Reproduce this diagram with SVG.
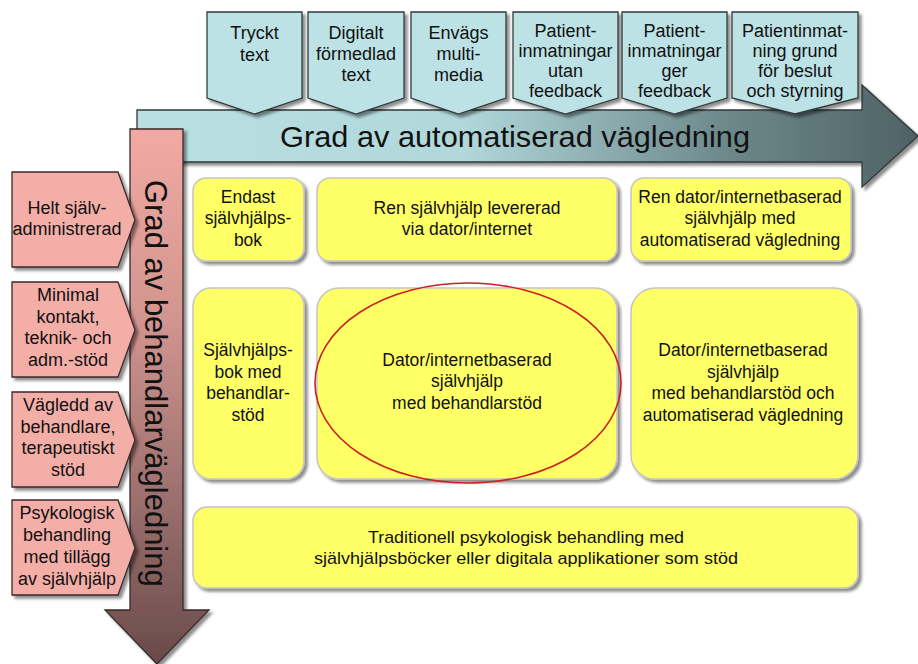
<svg xmlns="http://www.w3.org/2000/svg" width="918" height="664" viewBox="0 0 918 664">
<defs>
<style>
.t{font-family:"Liberation Sans",Arial,sans-serif;fill:#111;text-anchor:middle}
.s18{font-size:18px}
.s17{font-size:17.5px}
.cy{fill:#bde2e5;stroke:#2f3a3b;stroke-width:1.3}
.pk{fill:#f4aea8;stroke:#3a2a2a;stroke-width:1.3}
.yb{fill:#ffff66;stroke:#c4c4c4;stroke-width:1.5}
</style>
<linearGradient id="gh" gradientUnits="userSpaceOnUse" x1="137" y1="0" x2="918" y2="0">
<stop offset="0" stop-color="#b9e0e3"/>
<stop offset="0.42" stop-color="#b0d7da"/>
<stop offset="0.75" stop-color="#6e898b"/>
<stop offset="1" stop-color="#4f6264"/>
</linearGradient>
<linearGradient id="gv" gradientUnits="userSpaceOnUse" x1="0" y1="129" x2="0" y2="664">
<stop offset="0" stop-color="#f2a9a3"/>
<stop offset="0.35" stop-color="#d3958f"/>
<stop offset="0.7" stop-color="#9a6f6d"/>
<stop offset="1" stop-color="#6a4a4a"/>
</linearGradient>
<filter id="sh" x="-10%" y="-10%" width="130%" height="130%">
<feGaussianBlur in="SourceAlpha" stdDeviation="1.5"/>
<feOffset dx="2.5" dy="2.5" result="o"/>
<feComponentTransfer><feFuncA type="linear" slope="0.45"/></feComponentTransfer>
<feMerge><feMergeNode/><feMergeNode in="SourceGraphic"/></feMerge>
</filter>
</defs>
<rect width="918" height="664" fill="#ffffff"/>

<g id="arrow-automation">
<polygon points="137,110 862,110 862,85 918,136 862,187 862,162 137,162" fill="url(#gh)" stroke="#2f3a3b" stroke-width="1.3" filter="url(#sh)"/>
<text class="t" x="280" y="147" style="font-size:30px;text-anchor:start" textLength="470" lengthAdjust="spacingAndGlyphs">Grad av automatiserad vägledning</text>
</g>

<g id="top-tryckt">
<polygon class="cy" points="207,12 302,12 302,98 254.5,114 207,98" filter="url(#sh)"/>
<text class="t s18" x="254.5" y="39">Tryckt</text>
<text class="t s18" x="254.5" y="61">text</text>
</g>
<g id="top-digitalt">
<polygon class="cy" points="308,12 404,12 404,98 356,114 308,98" filter="url(#sh)"/>
<text class="t s18" x="356" y="39">Digitalt</text>
<text class="t s18" x="356" y="60">förmedlad</text>
<text class="t s18" x="356" y="81">text</text>
</g>
<g id="top-envags">
<polygon class="cy" points="411,12 506,12 506,98 458.5,114 411,98" filter="url(#sh)"/>
<text class="t s18" x="458.5" y="39">Envägs</text>
<text class="t s18" x="458.5" y="60">multi-</text>
<text class="t s18" x="458.5" y="81">media</text>
</g>
<g id="top-utan">
<polygon class="cy" points="513,12 618,12 618,98 565.5,114 513,98" filter="url(#sh)"/>
<text class="t s18" x="565.5" y="37">Patient-</text>
<text class="t s18" x="565.5" y="57">inmatningar</text>
<text class="t s18" x="565.5" y="77">utan</text>
<text class="t s18" x="565.5" y="97">feedback</text>
</g>
<g id="top-ger">
<polygon class="cy" points="622,12 727,12 727,98 674.5,114 622,98" filter="url(#sh)"/>
<text class="t s18" x="674.5" y="37">Patient-</text>
<text class="t s18" x="674.5" y="57">inmatningar</text>
<text class="t s18" x="674.5" y="77">ger</text>
<text class="t s18" x="674.5" y="97">feedback</text>
</g>
<g id="top-beslut">
<polygon class="cy" points="732,12 858,12 858,98 795,114 732,98" filter="url(#sh)"/>
<text class="t s18" x="795" y="37">Patientinmat-</text>
<text class="t s18" x="795" y="57">ning grund</text>
<text class="t s18" x="795" y="77">för beslut</text>
<text class="t s18" x="795" y="97">och styrning</text>
</g>

<g id="arrow-therapist">
<polygon points="130,129 183,129 183,610 209,610 157,664 105,610 130,610" fill="url(#gv)" stroke="#3a2a2a" stroke-width="1.3" filter="url(#sh)"/>
<text class="t" transform="translate(145,180) rotate(90)" x="0" y="0" style="font-size:31px;text-anchor:start">Grad av behandlarvägledning</text>
</g>

<g id="left-helt">
<polygon class="pk" points="12,172 118,172 135,220 118,267 12,267" filter="url(#sh)"/>
<text class="t s18" x="67" y="214">Helt själv-</text>
<text class="t s18" x="67" y="235">administrerad</text>
</g>
<g id="left-minimal">
<polygon class="pk" points="12,282 118,282 135,330 118,377 12,377" filter="url(#sh)"/>
<text class="t s18" x="68" y="301">Minimal</text>
<text class="t s18" x="68" y="323">kontakt,</text>
<text class="t s18" x="68" y="344">teknik- och</text>
<text class="t s18" x="68" y="366">adm.-stöd</text>
</g>
<g id="left-vagledd">
<polygon class="pk" points="12,392 118,392 135,440 118,487 12,487" filter="url(#sh)"/>
<text class="t s18" x="68" y="411">Vägledd av</text>
<text class="t s18" x="68" y="433">behandlare,</text>
<text class="t s18" x="68" y="454">terapeutiskt</text>
<text class="t s18" x="68" y="476">stöd</text>
</g>
<g id="left-psyk">
<polygon class="pk" points="12,500 118,500 135,548 118,595 12,595" filter="url(#sh)"/>
<text class="t s18" x="67" y="519">Psykologisk</text>
<text class="t s18" x="67" y="541">behandling</text>
<text class="t s18" x="67" y="563">med tillägg</text>
<text class="t s18" x="67" y="585">av självhjälp</text>
</g>

<g id="box-endast">
<rect class="yb" x="193" y="178" width="111" height="83" rx="13" filter="url(#sh)"/>
<text class="t s17" x="248" y="203">Endast</text>
<text class="t s17" x="248" y="224">självhjälps-</text>
<text class="t s17" x="248" y="246">bok</text>
</g>
<g id="box-ren">
<rect class="yb" x="317" y="178" width="300" height="83" rx="13" filter="url(#sh)"/>
<text class="t s17" x="467" y="214">Ren självhjälp levererad</text>
<text class="t s17" x="467" y="235">via dator/internet</text>
</g>
<g id="box-ren-dator">
<rect class="yb" x="631" y="178" width="220" height="83" rx="13" filter="url(#sh)"/>
<text class="t s17" x="740" y="203">Ren dator/internetbaserad</text>
<text class="t s17" x="740" y="224">självhjälp med</text>
<text class="t s17" x="740" y="246">automatiserad vägledning</text>
</g>
<g id="box-bok-behandlar">
<rect class="yb" x="193" y="288" width="111" height="191" rx="18" filter="url(#sh)"/>
<text class="t s17" x="248" y="356">Självhjälps-</text>
<text class="t s17" x="248" y="378">bok med</text>
<text class="t s17" x="248" y="399">behandlar-</text>
<text class="t s17" x="248" y="421">stöd</text>
</g>
<g id="box-dator-behandlar">
<rect class="yb" x="317" y="288" width="300" height="191" rx="22" filter="url(#sh)"/>
<text class="t s17" x="467" y="366">Dator/internetbaserad</text>
<text class="t s17" x="467" y="387">självhjälp</text>
<text class="t s17" x="467" y="409">med behandlarstöd</text>
</g>
<g id="box-dator-auto">
<rect class="yb" x="631" y="288" width="227" height="191" rx="24" filter="url(#sh)"/>
<text class="t s17" x="743" y="356">Dator/internetbaserad</text>
<text class="t s17" x="743" y="378">självhjälp</text>
<text class="t s17" x="743" y="399">med behandlarstöd och</text>
<text class="t s17" x="743" y="421">automatiserad vägledning</text>
</g>
<g id="box-traditionell">
<rect class="yb" x="193" y="507" width="665" height="81" rx="14" filter="url(#sh)"/>
<text class="t" x="526" y="543" style="font-size:17px" textLength="316" lengthAdjust="spacingAndGlyphs">Traditionell psykologisk behandling med</text>
<text class="t" x="526" y="564" style="font-size:17px" textLength="424" lengthAdjust="spacingAndGlyphs">självhjälpsböcker eller digitala applikationer som stöd</text>
</g>

<g id="connectors">
<ellipse cx="468" cy="383" rx="153" ry="100" fill="none" stroke="#cc2020" stroke-width="1.6"/>
</g>
</svg>
